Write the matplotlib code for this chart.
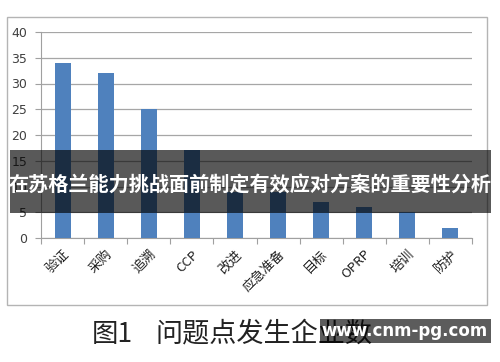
import matplotlib
matplotlib.use("Agg")
import matplotlib.pyplot as plt
from matplotlib.patches import Rectangle

plt.rcParams['font.family'] = ['Noto Sans CJK SC', 'DejaVu Sans']

categories = ['验证', '采购', '追溯', 'CCP', '改进', '应急准备', '目标', 'OPRP', '培训', '防护']
values = [34, 32, 25, 17, 9, 9, 7, 6, 5, 2]
yticks = [0, 5, 10, 15, 20, 25, 30, 35, 40]
banner_text = '在苏格兰能力挑战面前制定有效应对方案的重要性分析'
caption_label = '图1'
caption_text = '问题点发生企业数'
watermark_text = 'www.cnm-pg.com'

W, H = 500, 362
fig = plt.figure(figsize=(5, 3.62), dpi=100)
fig.patch.set_facecolor('white')

def fx(px):
    return px / W

def fy(py):
    return 1 - py / H

# outer chart frame
fig.patches.append(Rectangle((fx(7), fy(305)), fx(487) - fx(7), fy(17) - fy(305),
                             transform=fig.transFigure, facecolor='none',
                             edgecolor='#b4b4b4', linewidth=1.0, zorder=0))

ax = fig.add_axes([fx(41), fy(238), fx(472) - fx(41), fy(32) - fy(238)])
x = list(range(len(categories)))
ax.bar(x, values, width=0.37, color='#4f81bd', zorder=3)
ax.set_xlim(-0.5, len(categories) - 0.5)
ax.set_ylim(0, 40)
ax.set_yticks(yticks)
ax.set_yticklabels([str(v) for v in yticks], fontsize=9, color='#404040',
                   family=['DejaVu Sans'])
ax.yaxis.grid(True, color='#a6a6a6', linewidth=0.9, zorder=0)
ax.set_axisbelow(True)
for s in ['top', 'right']:
    ax.spines[s].set_visible(False)
ax.spines['left'].set_color('#a0a0a0')
ax.spines['bottom'].set_color('#a0a0a0')
ax.tick_params(axis='y', length=4, color='#a0a0a0', pad=6)
ax.set_xticks([i + 0.5 for i in range(-1, len(categories))], minor=False)
ax.set_xticklabels([])
ax.tick_params(axis='x', length=4, color='#a0a0a0')
ax.set_xticks(x, minor=True)
ax.set_xticklabels(categories, minor=True, rotation=45, ha='right',
                   rotation_mode='anchor', fontsize=9.5, color='#202020')
ax.tick_params(axis='x', which='minor', length=0, pad=7)

# caption
fig.text(fx(92), fy(334), caption_label, fontsize=19, color='#222222',
         ha='left', va='center')
fig.text(fx(156), fy(334), caption_text, fontsize=19.5, color='#222222',
         ha='left', va='center')

# banner overlay
fig.patches.append(Rectangle((fx(10), fy(213)), fx(491) - fx(10), fy(150) - fy(213),
                             transform=fig.transFigure, facecolor='black',
                             alpha=0.65, edgecolor='none', zorder=10))
fig.text(0.5, fy(184), banner_text, fontsize=14.5, color='white', weight='bold',
         ha='center', va='center', zorder=11)

# watermark (semi-transparent, caption shows through)
fig.patches.append(Rectangle((fx(320), fy(343)), fx(491) - fx(320), fy(319) - fy(343),
                             transform=fig.transFigure, facecolor='black',
                             alpha=0.64, edgecolor='none', zorder=10))
fig.text(fx(405), fy(331), watermark_text, fontsize=12, color='white', weight='bold',
         ha='center', va='center', family=['DejaVu Sans'], zorder=11)

fig.savefig('out.png', dpi=100)
